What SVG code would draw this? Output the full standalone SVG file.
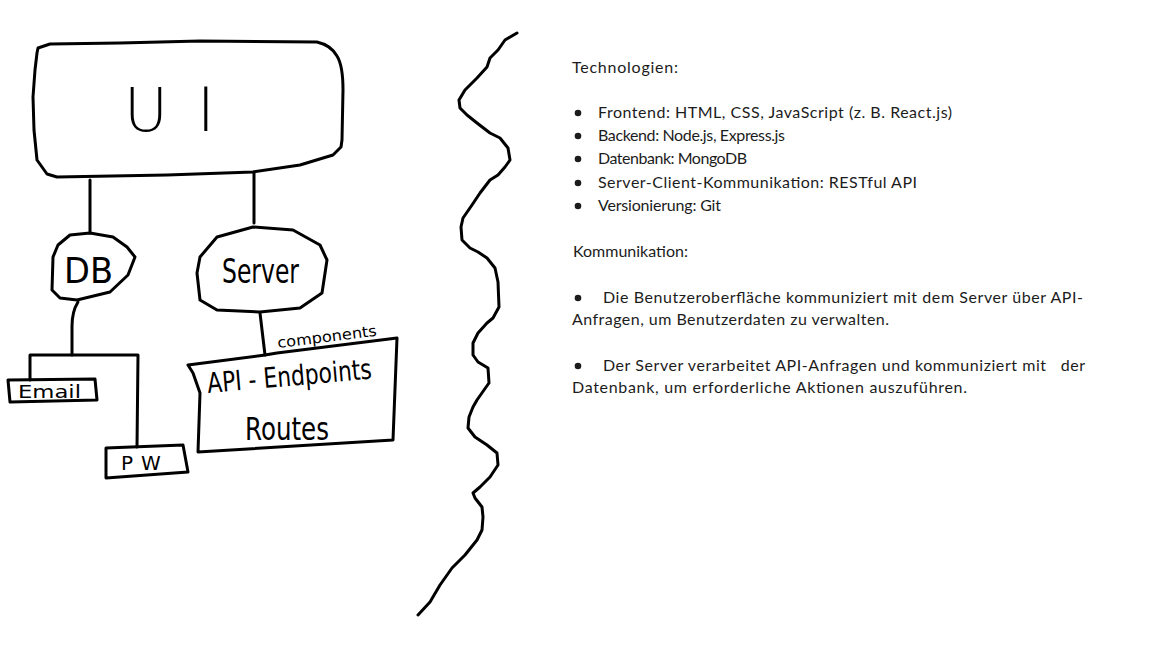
<svg xmlns="http://www.w3.org/2000/svg" width="1152" height="648" viewBox="0 0 1152 648">
<style>
.ink{fill:none;stroke:#000;stroke-width:3;stroke-linejoin:round;stroke-linecap:round}
.hw{font-family:"DejaVu Sans","Liberation Sans",sans-serif;fill:#000}
.tx{font-family:Lato,"Liberation Sans",sans-serif;font-size:16px;fill:#1c1c1c}
.bul{fill:#1c1c1c}
</style>
<rect width="1152" height="648" fill="#fff"/>
<g id="ui">
<path class="ink" d="M37,53 L38,48 L50,44 L120,43 L200,41 L317,42 C326,44 333,49 337,56 C342,64 343,75 343,90 L342,140 L341,147 L333,155 L300,165 L253,172 L167,175 L57,177 L47,174 L37,160 L34,130 L33,97 L35,70 Z"/>
<text class="hw" y="131" font-size="60" font-weight="200"><tspan x="124">U</tspan><tspan x="197">I</tspan></text>
</g>
<g id="db">
<path class="ink" d="M90,233 L70,235 L58,245 L53,257 L52,290 L60,298 L77,300 L110,292 L128,275 L135,257 L127,247 L113,237 Z"/>
<text class="hw" x="64" y="283" font-size="36" textLength="49" lengthAdjust="spacingAndGlyphs">DB</text>
</g>
<g id="server">
<path class="ink" d="M253,227 L217,237 L200,257 L197,273 L200,300 L217,310 L260,312 L300,308 L322,293 L327,260 L320,245 L293,230 Z"/>
<text class="hw" x="222" y="283" font-size="34" textLength="77" lengthAdjust="spacingAndGlyphs">Server</text>
</g>
<g id="email">
<path class="ink" d="M8,380 L95,379 L97,400 L10,402 Z"/>
<text class="hw" x="18" y="398" font-size="17" textLength="63" lengthAdjust="spacingAndGlyphs">Email</text>
</g>
<g id="pw">
<path class="ink" d="M106,448 L183,445 L188,472 L106,478 Z"/>
<text class="hw" x="121" y="470" font-size="20" letter-spacing="8">PW</text>
</g>
<g id="api">
<path class="ink" d="M188,365 L265,355 L277,353 L397,338 L393,440 L198,452 L200,393 L193,373 Z"/>
<text class="hw" x="278" y="348" font-size="15" textLength="100" lengthAdjust="spacingAndGlyphs" transform="rotate(-7 278 348)">components</text>
<text class="hw" x="208" y="393" font-size="28" textLength="165" lengthAdjust="spacingAndGlyphs" transform="rotate(-5 208 393)">API - Endpoints</text>
<text class="hw" x="245" y="440" font-size="32" textLength="84" lengthAdjust="spacingAndGlyphs">Routes</text>
</g>
<g id="connectors">
<path class="ink" d="M90,180 L90,233"/>
<path class="ink" d="M254,172 L254,223"/>
<path class="ink" d="M78,302 C73,310 72,318 72,326 L72,355"/>
<path class="ink" d="M30,380 L30,355 L138,355 L137,447"/>
<path class="ink" d="M260,313 L265,355"/>
</g>
<g id="divider">
<path class="ink" d="M517,33 L505,40 L498,50 L490,58 L487,67 L477,78 L465,90 L459,100 L460,108 L467,115 L477,123 L490,133 L500,138 L508,148 L510,160 L505,167 L498,175 L490,180 L480,193 L472,205 L463,218 L461,227 L462,240 L470,248 L478,252 L487,258 L495,268 L498,282 L499,307 L493,318 L487,323 L478,333 L473,343 L473,355 L478,362 L488,368 L489,383 L484,390 L477,400 L473,407 L469,417 L468,428 L475,437 L487,445 L497,453 L498,465 L490,477 L480,487 L473,493 L475,498 L482,507 L483,517 L482,530 L477,540 L465,555 L452,568 L440,585 L430,602 L418,615"/>
</g>
<g id="notes">
<text class="tx" x="572" y="73" textLength="106" lengthAdjust="spacing">Technologien:</text>
<circle class="bul" cx="578" cy="113" r="3.3"/>
<circle class="bul" cx="578" cy="136" r="3.3"/>
<circle class="bul" cx="578" cy="159" r="3.3"/>
<circle class="bul" cx="578" cy="183" r="3.3"/>
<circle class="bul" cx="578" cy="206" r="3.3"/>
<text class="tx" x="598" y="118" textLength="354" lengthAdjust="spacing">Frontend: HTML, CSS, JavaScript (z. B. React.js)</text>
<text class="tx" x="598" y="141" textLength="187" lengthAdjust="spacing">Backend: Node.js, Express.js</text>
<text class="tx" x="598" y="164" textLength="149" lengthAdjust="spacing">Datenbank: MongoDB</text>
<text class="tx" x="598" y="188" textLength="319" lengthAdjust="spacing">Server-Client-Kommunikation: RESTful API</text>
<text class="tx" x="598" y="211" textLength="123" lengthAdjust="spacing">Versionierung: Git</text>
<text class="tx" x="573" y="257">Kommunikation:</text>
<circle class="bul" cx="578" cy="298" r="3.3"/>
<text class="tx" x="603" y="303" textLength="480" lengthAdjust="spacing">Die Benutzeroberfläche kommuniziert mit dem Server über API-</text>
<text class="tx" x="572" y="325" textLength="317" lengthAdjust="spacing">Anfragen, um Benutzerdaten zu verwalten.</text>
<circle class="bul" cx="578" cy="366" r="3.3"/>
<text class="tx" x="603" y="371" textLength="482" lengthAdjust="spacing" xml:space="preserve">Der Server verarbeitet API-Anfragen und kommuniziert mit   der</text>
<text class="tx" x="572" y="393" textLength="395" lengthAdjust="spacing">Datenbank, um erforderliche Aktionen auszuführen.</text>
</g>
</svg>
